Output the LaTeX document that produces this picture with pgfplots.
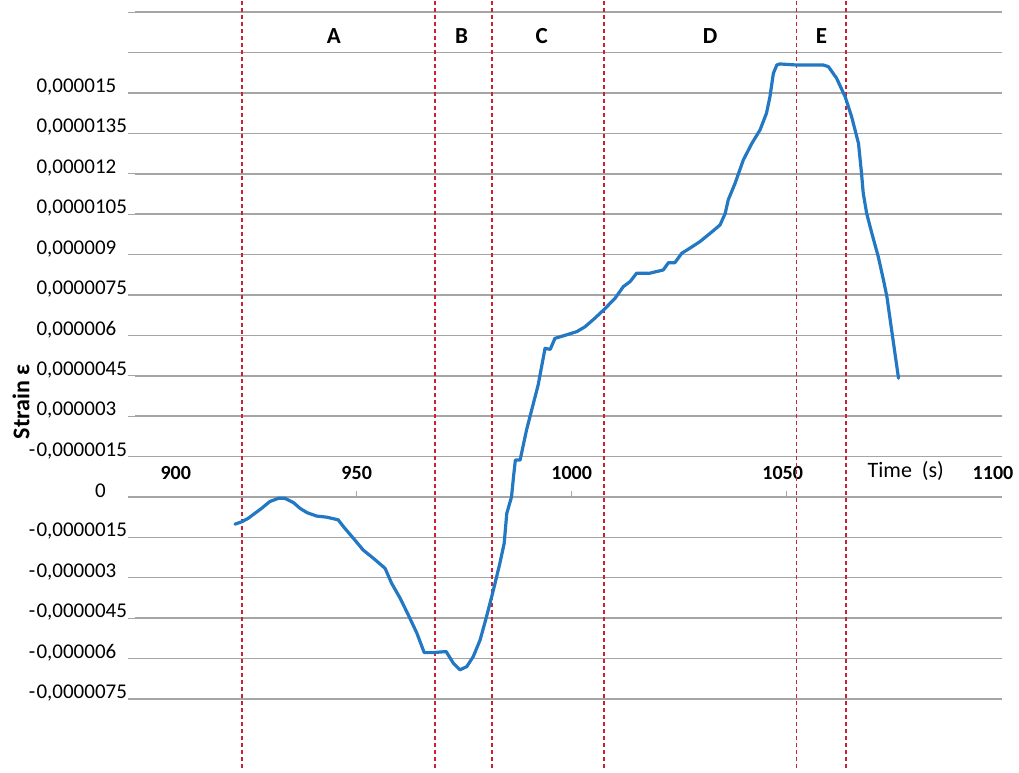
\documentclass[border=0pt]{standalone}
\usepackage{pgfplots}
\pgfplotsset{compat=1.18}
\usepackage{fontspec}
\setmainfont{Carlito}
\definecolor{curve}{RGB}{35,120,195}
\definecolor{gridc}{RGB}{165,165,165}
\definecolor{sep}{RGB}{200,35,50}

\pgfplotstableread{
t s
921.7 -1.01
923.3 -0.92
924.8 -0.79
926.3 -0.61
927.9 -0.42
929.8 -0.17
931.8 -0.05
933.3 -0.05
935.3 -0.21
936.8 -0.42
938.4 -0.58
940.7 -0.71
943.0 -0.75
945.7 -0.85
946.9 -1.10
949.2 -1.53
951.5 -1.97
953.9 -2.28
956.6 -2.65
958.1 -3.20
960.1 -3.76
962.0 -4.38
964.0 -5.06
965.7 -5.78
967.8 -5.78
970.8 -5.74
972.5 -6.18
974.0 -6.42
975.6 -6.30
977.1 -5.93
978.7 -5.31
980.2 -4.44
981.8 -3.45
983.3 -2.46
984.3 -1.72
984.9 -0.61
986.0 0.00
986.5 0.80
986.9 1.37
988.0 1.37
989.5 2.49
991.1 3.48
992.2 4.16
993.8 5.52
995.0 5.48
996.1 5.89
998.8 6.02
1001.2 6.14
1003.1 6.32
1005.4 6.64
1007.4 6.94
1010.1 7.38
1012.0 7.81
1013.6 8.00
1015.1 8.31
1018.2 8.31
1021.3 8.43
1022.5 8.70
1024.0 8.70
1025.6 9.05
1027.5 9.24
1029.8 9.48
1032.2 9.79
1034.5 10.10
1035.7 10.53
1036.4 11.03
1038.0 11.65
1039.9 12.51
1041.9 13.13
1043.8 13.63
1045.3 14.25
1046.1 14.86
1046.9 15.73
1047.7 16.04
1048.4 16.08
1052.3 16.04
1058.5 16.04
1059.7 15.98
1061.6 15.55
1063.6 14.86
1065.1 14.12
1066.7 13.13
1067.4 12.02
1067.8 11.28
1068.6 10.53
1069.8 9.79
1071.3 8.92
1072.5 8.06
1073.3 7.44
1074.4 6.20
1076.0 4.41
}\strain

\begin{document}
\begin{tikzpicture}
\begin{axis}[
  name=ax,
  scale only axis,
  width=433.35pt, height=386.5pt,
  xmin=898.44, xmax=1100,
  ymin=-10.25, ymax=18.455,
  axis x line*=middle,
  axis y line*=left,
  y axis line style={draw=none},
  x axis line style={draw=gridc, line width=0.75pt},
  ymajorgrids,
  grid style={draw=gridc, line width=0.75pt},
  major tick length=3.5pt,
  xtick={900,950,1000,1050,1100},
  xticklabels={\hspace*{34pt}900,950,1000,1050\hspace*{4pt},1100\hspace*{8.7pt}},
  xtick style={draw=none},
  extra x ticks={950,1000,1050},
  extra x tick labels={},
  extra x tick style={xtick align=center, xtick style={draw=gridc, line width=0.6pt, yshift=1.6pt}, major tick length=3.2pt},
  xticklabel style={anchor=base, yshift=8.5pt, font=\bfseries\fontsize{10}{12}\selectfont},
  ytick={-7.5,-6,-4.5,-3,-1.5,0,1.5,3,4.5,6,7.5,9,10.5,12,13.5,15,16.5,18},
  yticklabels={{-\kern0.6pt0,0000075}, {-\kern0.6pt0,000006\hphantom{0}}, {-\kern0.6pt0,0000045}, {-\kern0.6pt0,000003\hphantom{0}}, {-\kern0.6pt0,0000015}, {0\hphantom{00}}, {-\kern0.6pt0,0000015}, {0,000003\hphantom{0}}, {0,0000045}, {0,000006\hphantom{0}}, {0,0000075}, {0,000009\hphantom{0}}, {0,0000105}, {0,000012\hphantom{0}}, {0,0000135}, {0,000015\hphantom{0}}, {}, {}},
  ytick align=outside,
  ytick style={draw=gridc, line width=0.6pt},
  yticklabel style={anchor=east, xshift=3pt, yshift=3pt, font=\fontsize{10.5}{12}\selectfont},
  xlabel={Time\ \ (s)},
  xlabel style={at={(axis cs:1077.7,0)}, anchor=base, yshift=9.5pt, font=\fontsize{11}{13}\selectfont},
  ylabel={Strain ε},
  ylabel style={at={(axis cs:898.44,3.53)}, yshift=57pt, anchor=center, font=\bfseries\fontsize{12}{14}\selectfont},
  clip=false,
]
\foreach \xv in {923.3,968.2,981.4,1007.5,1052.3,1063.7}{
  \edef\tmp{\noexpand\addplot[sep, line width=0.9pt, dash pattern=on 2pt off 1.5pt, forget plot] coordinates {(\xv,-10.07) (\xv,18.455)};}
  \tmp
}
\addplot[curve, line width=1.6pt, line join=round, line cap=round] table[x=t, y=s] {\strain};
\node[font=\bfseries\fontsize{11.5}{13}\selectfont] at (axis cs:944.7,17.12) {A};
\node[font=\bfseries\fontsize{11.5}{13}\selectfont] at (axis cs:974.4,17.12) {B};
\node[font=\bfseries\fontsize{11.5}{13}\selectfont] at (axis cs:993.0,17.12) {C};
\node[font=\bfseries\fontsize{11.5}{13}\selectfont] at (axis cs:1032.2,17.12) {D};
\node[font=\bfseries\fontsize{11.5}{13}\selectfont] at (axis cs:1058.1,17.12) {E};
\end{axis}
\pgfresetboundingbox
\path[use as bounding box] ([xshift=-67.5pt]ax.south west) rectangle ([xshift=8.65pt]ax.north east);
\end{tikzpicture}
\end{document}
